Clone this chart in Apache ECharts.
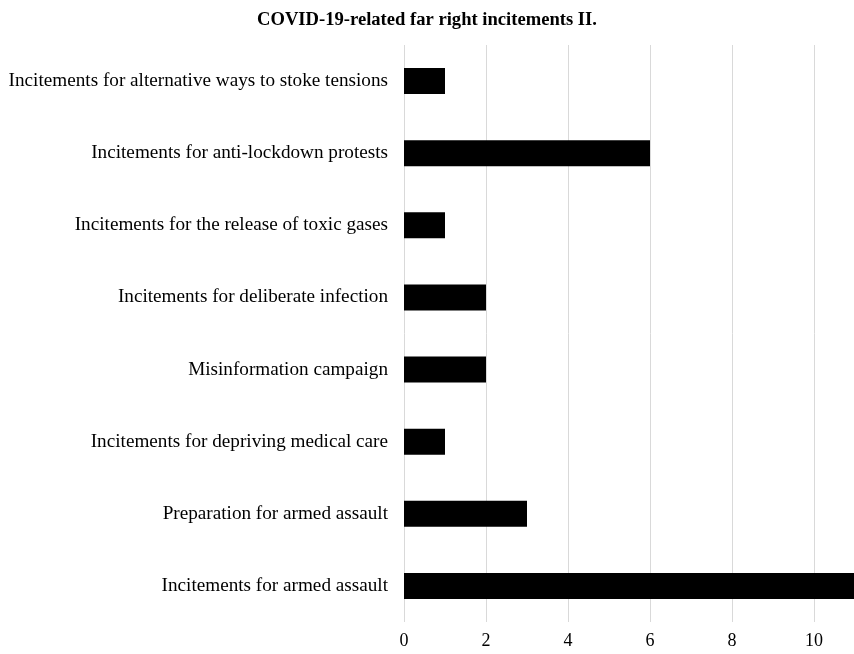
<!DOCTYPE html>
<html>
<head>
<meta charset="utf-8">
<script src="https://cdn.jsdelivr.net/npm/echarts@6/dist/echarts.min.js"></script>
<style>html,body{margin:0;padding:0;background:#fff;}#chart{width:854px;height:654px;}</style>
</head>
<body>
<div id="chart"></div>
<script>
const categories = [
  "Incitements for armed assault",
  "Preparation for armed assault",
  "Incitements for depriving medical care",
  "Misinformation campaign",
  "Incitements for deliberate infection",
  "Incitements for the release of toxic gases",
  "Incitements for anti-lockdown protests",
  "Incitements for alternative ways to stoke tensions"
];
const values = [11, 3, 1, 2, 2, 1, 6, 1];
const titleText = "COVID-19-related far right incitements II.";

const chart = echarts.init(document.getElementById('chart'));
chart.setOption({
  animation: false,
  backgroundColor: '#fff',
  title: {
    text: titleText,
    left: 'center',
    top: 6,
    textStyle: { fontFamily: 'Liberation Serif', fontWeight: 'bold', fontSize: 18.6, color: '#000' }
  },
  grid: { left: 404, right: -1, top: 45, bottom: 32, outerBoundsMode: 'none', containLabel: false },
  xAxis: {
    type: 'value',
    min: 0, max: 11, interval: 2,
    axisLine: { show: false },
    axisTick: { show: false },
    axisLabel: { fontFamily: 'Liberation Serif', fontSize: 18, color: '#000', margin: 10,
      formatter: v => (v % 2 === 0 ? String(v) : '') },
    splitLine: { show: true, lineStyle: { color: '#d9d9d9', width: 1 } }
  },
  yAxis: {
    type: 'category',
    data: categories,
    axisLine: { show: false },
    axisTick: { show: false },
    axisLabel: { fontFamily: 'Liberation Serif', fontSize: 19.2, color: '#000', margin: 16, padding: [3, 0, 0, 0] }
  },
  series: [{
    type: 'bar',
    data: values,
    barCategoryGap: '64%',
    itemStyle: { color: '#000' }
  }]
});
</script>
</body>
</html>
